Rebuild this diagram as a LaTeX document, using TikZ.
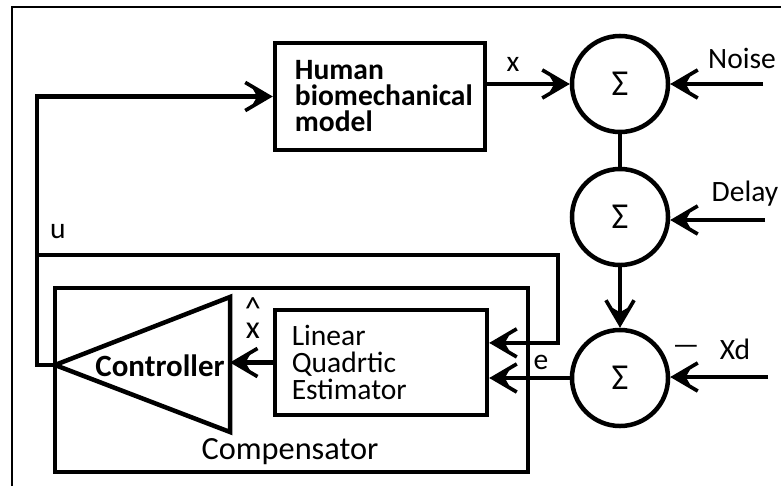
\documentclass[tikz,border=0pt]{standalone}
\usepackage{fontspec}
\setmainfont{Carlito}
\usetikzlibrary{arrows.meta}

\begin{document}
\begin{tikzpicture}[x=0.025cm, y=-0.025cm, line width=3.2pt,
  >={Straight Barb[length=17pt, width=20pt, line width=2.6pt, sep=-14pt] Stealth[length=14pt, width=11pt, inset=3pt]},
  every node/.style={font=\fontsize{21}{19}\selectfont},
  block/.style={draw, rectangle, line width=3.2pt, align=left, inner xsep=0.5cm},
  summer/.style={draw, circle, line width=3.2pt, minimum size=2.4cm, inner sep=0pt, font=\fontsize{26}{26}\selectfont},
  arr/.style={->}]
  \useasboundingbox (0,0) rectangle (781,486);
  \draw[line width=1.6pt] (12,486) -- (12,7) -- (781,7);

  \node[block, font=\bfseries\fontsize{21}{18.5}\selectfont, text width=4.25cm, minimum height=2.675cm] (human) at (380,96.5) {Human\\biomechanical\\model};
  \node[block, inner xsep=0.42cm, text width=4.46cm, minimum height=2.625cm] (lqe) at (381,362.5) {Linear\\Quadrtic\\Estimator};

  \node[summer] (sum1) at (620,84) {Σ};
  \node[summer] (sum2) at (620,217) {Σ};
  \node[summer] (sum3) at (620,378) {Σ};

  % compensator: triangle controller inside a frame
  \draw[line width=2.2pt] (55,288) rectangle (528,472);
  \coordinate (ctip) at (55,365);
  \coordinate (cbase) at (230,365);
  \draw[line join=miter] (ctip) -- (230,297) -- (230,432) -- cycle;
  \node[font=\bfseries\fontsize{22}{19}\selectfont] (ctrl) at (160,366) {Controller};
  \node[font=\fontsize{23}{19}\selectfont] (comp) at (290,452) {Compensator};

  % outside inputs
  \coordinate (noise) at (763,84);
  \coordinate (delay) at (765,220);
  \coordinate (xd) at (768,377);
  \node (noiselbl) at (742,58) {Noise};
  \node (delaylbl) at (745,194) {Delay};
  \node (xdlbl) at (735,349) {Xd};
  \node (minus) at (686,350) {\textemdash};

  \draw[arr] (noise) -- (sum1.east);
  \draw[arr] (delay) -- (delay -| sum2.east);
  \draw[arr] (xd) -- (xd -| sum3.east);
  \draw (sum1) -- (sum2);
  \draw[arr] (sum2) -- (sum3);

  \draw[arr] (human.east |- sum1) -- (sum1.west);
  \node (xlbl) at (513,64) {x};

  % error and feedback into the estimator
  \draw[arr] (sum3.west) -- (sum3.west -| lqe.east);
  \node (elbl) at (541,362) {e};
  \coordinate (ubranch) at (37,255);
  \coordinate (ucorner) at (558,255);
  \draw[arr] (ubranch) -- (ucorner) |- ([yshift=0.49cm]lqe.east);
  \node (ulbl) at (58,232) {u};

  \draw[arr] (lqe.west) -- (lqe.west -| cbase);
  \node[align=center, font=\fontsize{23}{14}\selectfont] (xhat) at (253,318) {\textasciicircum\\x};

  % control signal back to the model
  \draw[arr] (ctip) -- ++(-18,0) |- (human.west);
\end{tikzpicture}
\end{document}
